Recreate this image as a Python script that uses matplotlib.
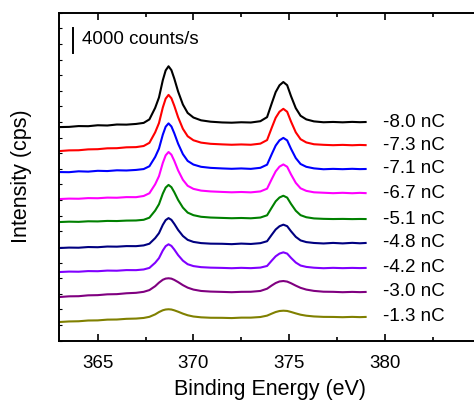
import matplotlib
matplotlib.use("Agg")
import matplotlib.pyplot as plt
from matplotlib.ticker import FixedLocator, MultipleLocator

plt.rcParams['font.family'] = ['Liberation Sans', 'DejaVu Sans']

# binding energy grid (eV)
energy = [363.0, 363.5, 364.0, 364.5, 365.0, 365.5, 366.0, 366.5, 367.0, 367.4,
          367.7, 368.0, 368.2, 368.4, 368.55, 368.7, 368.85, 369.0, 369.2, 369.45,
          369.7, 370.0, 370.4, 370.9, 371.5, 372.0, 372.5, 373.0, 373.5, 373.85,
          374.1, 374.3, 374.5, 374.7, 374.9, 375.1, 375.35, 375.6, 375.9, 376.3,
          376.8, 377.3, 377.8, 378.3, 378.7, 379.0]

# intensities (cps), top to bottom
i_80 = [2190, 2220, 2350, 2330, 2480, 2440, 2600, 2580, 2690, 2860,
        3420, 5260, 6930, 9690, 11260, 11920, 11300, 9950, 7880, 5800,
        4450, 3720, 3270, 3050, 2930, 2890, 2960, 2920, 3130, 3780,
        6040, 7790, 8880, 9400, 8890, 7150, 5220, 4000, 3420, 3100,
        2960, 3010, 2950, 3020, 2970, 3000]
i_73 = [2350, 2460, 2480, 2620, 2650, 2790, 2810, 2950, 2980, 3160,
        3670, 5340, 6830, 9320, 10740, 11340, 10800, 9600, 7760, 5910,
        4720, 4080, 3700, 3510, 3420, 3360, 3410, 3360, 3540, 4110,
        6130, 7680, 8650, 9110, 8640, 7080, 5350, 4250, 3730, 3440,
        3350, 3290, 3340, 3280, 3330, 3300]
i_71 = [2990, 2970, 3110, 3060, 3190, 3150, 3270, 3240, 3330, 3470,
        3920, 5400, 6750, 8970, 10250, 10780, 10290, 9200, 7530, 5860,
        4770, 4190, 3830, 3660, 3570, 3510, 3570, 3500, 3670, 4170,
        5900, 7230, 8070, 8460, 8060, 6720, 5230, 4280, 3830, 3580,
        3440, 3500, 3450, 3510, 3460, 3480]
i_67 = [2670, 2740, 2720, 2820, 2800, 2900, 2880, 2980, 2970, 3160,
        3600, 5030, 6330, 8450, 9670, 10200, 9770, 8790, 7260, 5750,
        4790, 4300, 4020, 3890, 3810, 3750, 3800, 3740, 3890, 4330,
        5900, 7100, 7860, 8210, 7840, 6620, 5260, 4390, 3980, 3750,
        3680, 3610, 3670, 3600, 3660, 3620]
i_51 = [2990, 3050, 3020, 3110, 3090, 3170, 3150, 3220, 3240, 3350,
        3690, 4820, 5840, 7540, 8510, 8930, 8570, 7770, 6530, 5300,
        4500, 4090, 3830, 3710, 3650, 3600, 3640, 3590, 3710, 4070,
        5330, 6310, 6920, 7200, 6900, 5900, 4800, 4090, 3760, 3570,
        3500, 3470, 3490, 3460, 3480, 3470]
i_48 = [2830, 2900, 2880, 2990, 2960, 3070, 3050, 3140, 3130, 3250,
        3520, 4410, 5210, 6540, 7300, 7620, 7340, 6700, 5730, 4760,
        4140, 3810, 3620, 3530, 3510, 3450, 3540, 3480, 3610, 3920,
        4980, 5800, 6320, 6570, 6330, 5520, 4620, 4050, 3780, 3640,
        3560, 3650, 3570, 3660, 3590, 3640]
i_42 = [2990, 3060, 3040, 3140, 3120, 3220, 3200, 3300, 3290, 3400,
        3650, 4470, 5210, 6430, 7130, 7430, 7170, 6590, 5700, 4810,
        4240, 3940, 3770, 3690, 3650, 3600, 3660, 3610, 3700, 3960,
        4840, 5510, 5940, 6140, 5940, 5260, 4510, 4030, 3810, 3680,
        3600, 3660, 3610, 3650, 3620, 3640]
i_30 = [2990, 3100, 3120, 3260, 3290, 3420, 3450, 3590, 3660, 3820,
        4100, 4720, 5290, 5750, 5940, 5990, 5930, 5730, 5380, 4890,
        4490, 4180, 3960, 3860, 3810, 3760, 3820, 3830, 3960, 4320,
        4850, 5230, 5480, 5550, 5460, 5200, 4810, 4460, 4180, 3970,
        3840, 3820, 3760, 3810, 3770, 3800]
i_13 = [2990, 3080, 3110, 3230, 3250, 3370, 3390, 3500, 3540, 3640,
        3820, 4210, 4580, 4870, 4990, 5030, 4990, 4860, 4640, 4330,
        4070, 3870, 3740, 3670, 3660, 3620, 3690, 3690, 3790, 4010,
        4340, 4590, 4750, 4800, 4760, 4600, 4370, 4160, 4000, 3880,
        3810, 3800, 3760, 3810, 3770, 3800]

spectra = [i_80, i_73, i_71, i_67, i_51, i_48, i_42, i_30, i_13]
labels = ['-8.0 nC', '-7.3 nC', '-7.1 nC', '-6.7 nC', '-5.1 nC',
          '-4.8 nC', '-4.2 nC', '-3.0 nC', '-1.3 nC']
offsets = [32000, 28000, 24000, 20000, 16000, 12000, 8000, 4000, 0]
colors = ['#000000', '#ff0000', '#0000ff', '#ff00ff', '#008000',
          '#000080', '#8000ff', '#800080', '#808000']

xticks = [365, 370, 375, 380]
xminor = [367.5, 372.5, 377.5, 382.5]

fig = plt.figure(figsize=(4.74, 4.01), dpi=100)
ax = fig.add_axes([0.1255, 0.1504, 0.888, 0.818])

for y, lab, off, c in zip(spectra, labels, offsets, colors):
    ax.plot(energy, [v + off for v in y], color=c, lw=1.5)
    ax.text(379.9, y[-1] + off, lab, fontsize=13.5, va='center', ha='left')

# scale bar
ax.plot([363.71, 363.71], [46000, 50000], color='black', lw=1.4)
ax.text(364.18, 48200, '4000 counts/s', fontsize=13.5, va='center', ha='left')

ax.set_xlim(363, 385)
ax.set_ylim(0, 52500)
ax.xaxis.set_major_locator(FixedLocator(xticks))
ax.xaxis.set_minor_locator(FixedLocator(xminor))
ax.yaxis.set_major_locator(MultipleLocator(2500))
ax.tick_params(axis='x', which='both', direction='in', top=True, labelsize=13.5, pad=10)
ax.tick_params(axis='x', which='major', length=5, width=1.2)
ax.tick_params(axis='x', which='minor', length=3, width=1.2)
ax.tick_params(axis='y', which='both', direction='in', length=2, width=0.8, labelleft=False)
for s in ax.spines.values():
    s.set_linewidth(1.4)

ax.set_xlabel('Binding Energy (eV)', fontsize=15.5, labelpad=5.5)
ax.set_ylabel('Intensity (cps)', fontsize=15.5, labelpad=20)

fig.savefig('out.png', dpi=100)
